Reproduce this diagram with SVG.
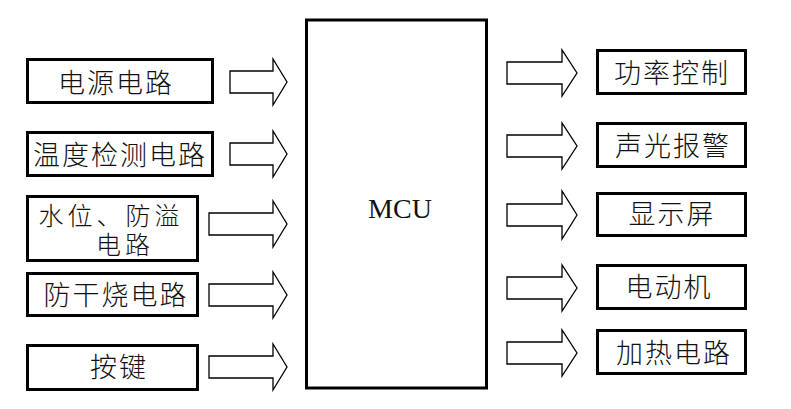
<svg xmlns="http://www.w3.org/2000/svg" width="791" height="409" viewBox="0 0 791 409">
<style>
.box{fill:#fff;stroke:#000;stroke-width:3}
.lbl{font-family:"Noto Sans CJK SC","Noto Sans CJK JP",sans-serif;font-size:27px;font-weight:300;letter-spacing:2px;fill:#111;text-anchor:middle}
.sm{font-size:25px;letter-spacing:4px}
.mcu{font-family:"Liberation Serif",serif;font-size:28px;fill:#111;text-anchor:middle}
.arr{fill:#fff;stroke:#000;stroke-width:1.3;stroke-linejoin:miter}
</style>
<rect width="791" height="409" fill="#fff"/>
<g id="connectors">
<path class="arr" d="M230,71 H273 V59 L287,82 L273,105 V93 H230 Z"/>
<path class="arr" d="M230,143 H273 V131 L287,154 L273,177 V165 H230 Z"/>
<path class="arr" d="M209,213 H273 V201 L287,224 L273,247 V235 H209 Z"/>
<path class="arr" d="M209,284 H273 V272 L287,295 L273,318 V306 H209 Z"/>
<path class="arr" d="M209,356 H273 V344 L287,367 L273,390 V378 H209 Z"/>
<path class="arr" d="M507,62 H562 V50 L577,73 L562,96 V84 H507 Z"/>
<path class="arr" d="M507,135 H562 V123 L577,146 L562,169 V157 H507 Z"/>
<path class="arr" d="M507,204 H562 V191 L577,215 L562,239 V226 H507 Z"/>
<path class="arr" d="M507,277 H562 V265 L577,288 L562,311 V299 H507 Z"/>
<path class="arr" d="M507,342 H562 V330 L577,353 L562,376 V364 H507 Z"/>
</g>
<g id="mcu">
<rect class="box" x="306.5" y="20" width="180" height="368"/>
<text class="mcu" x="400" y="218">MCU</text>
</g>
<g id="power">
<rect class="box" x="27.5" y="59.5" width="185" height="43"/>
<text class="lbl" x="116" y="93">电源电路</text>
</g>
<g id="temp">
<rect class="box" x="27.5" y="132.5" width="185" height="43"/>
<text class="lbl" x="120" y="165">温度检测电路</text>
</g>
<g id="water">
<rect class="box" x="27.5" y="196.5" width="170" height="64"/>
<text class="lbl sm"><tspan x="111" y="225">水位、防溢</tspan><tspan x="125" y="254">电路</tspan></text>
</g>
<g id="dry">
<rect class="box" x="27.5" y="273.5" width="170" height="42"/>
<text class="lbl" x="116" y="305">防干烧电路</text>
</g>
<g id="key">
<rect class="box" x="27.5" y="345.5" width="170" height="44"/>
<text class="lbl" x="119" y="377">按键</text>
</g>
<g id="powerctl">
<rect class="box" x="597.5" y="50.5" width="148" height="43"/>
<text class="lbl" x="672" y="83">功率控制</text>
</g>
<g id="alarm">
<rect class="box" x="597.5" y="123.5" width="148" height="43"/>
<text class="lbl" x="673" y="156">声光报警</text>
</g>
<g id="display">
<rect class="box" x="597.5" y="193.5" width="148" height="42"/>
<text class="lbl" x="672" y="224">显示屏</text>
</g>
<g id="motor">
<rect class="box" x="597.5" y="265.5" width="148" height="43"/>
<text class="lbl" x="669" y="297">电动机</text>
</g>
<g id="heat">
<rect class="box" x="597.5" y="330.5" width="148" height="43"/>
<text class="lbl" x="674" y="363">加热电路</text>
</g>
</svg>
